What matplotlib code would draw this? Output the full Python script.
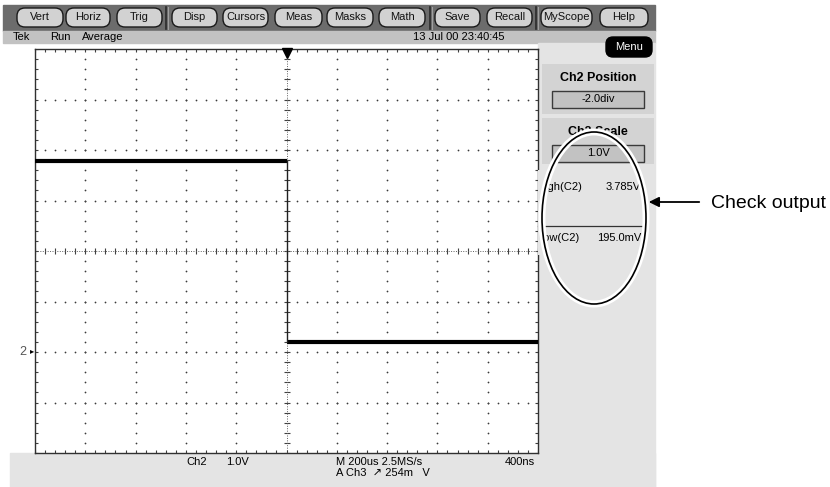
import numpy as np
import matplotlib
matplotlib.use("Agg")
import matplotlib.pyplot as plt
from matplotlib.patches import Rectangle, FancyBboxPatch, Ellipse, Polygon

plt.rcParams["font.family"] = ["Liberation Sans", "DejaVu Sans"]

# channel 2 waveform (time in us, volts)
time_us = [-1000, 0, 0, 1000]
ch2_volts = [3.785, 3.785, 0.195, 0.195]

# screen settings
volts_per_div = 1.0
us_per_div = 200
ch2_position_div = -2.0

# toolbar
buttons = ["Vert", "Horiz", "Trig", "Disp", "Cursors", "Meas", "Masks", "Math",
           "Save", "Recall", "MyScope", "Help"]
button_x = [17, 66, 117, 172, 223, 275, 327, 379, 435, 487, 541, 600]
button_w = [46, 44, 45, 45, 45, 47, 46, 46, 45, 45, 51, 48]
separators_x = [166, 430, 536]

meas_names = ["High(C2)", "Low(C2)"]
meas_values = ["3.785V", "195.0mV"]

FS = 8

fig = plt.figure(figsize=(8.3, 4.87), dpi=100)

# background layer in pixel coords
bg = fig.add_axes([0, 0, 1, 1], zorder=0)
bg.set_xlim(0, 830)
bg.set_ylim(487, 0)
bg.axis("off")

panel_gray = "#e4e4e4"
bg.add_patch(Rectangle((3, 5), 652, 26, color="#6c6c6c"))
bg.add_patch(Rectangle((3, 31), 652, 12, color="#c2c2c2"))
bg.add_patch(Rectangle((538, 43), 117, 444, color=panel_gray))
bg.add_patch(Rectangle((10, 453), 645, 34, color=panel_gray))

for name, x0, w in zip(buttons, button_x, button_w):
    bg.add_patch(FancyBboxPatch((x0, 8), w, 19, boxstyle="round,pad=0,rounding_size=8",
                                fc="#d2d2d2", ec="#1a1a1a", lw=1.0))
    bg.text(x0 + w / 2, 17.5, name, ha="center", va="center", fontsize=FS, color="#111")
for sx in separators_x:
    bg.plot([sx, sx], [7, 29], color="#2a2a2a", lw=1.2)
    bg.plot([sx + 1.5, sx + 1.5], [7, 29], color="#a0a0a0", lw=0.8)

bg.text(13, 37.5, "Tek", fontsize=FS, va="center")
bg.text(50, 37.5, "Run", fontsize=FS, va="center")
bg.text(82, 37.5, "Average", fontsize=FS, va="center")
bg.text(413, 37.5, "13 Jul 00 23:40:45", fontsize=FS, va="center")

# menu button
bg.add_patch(FancyBboxPatch((606, 37), 46, 20, boxstyle="round,pad=0,rounding_size=7",
                            fc="black", ec="black"))
bg.text(629, 47, "Menu", color="white", ha="center", va="center", fontsize=FS)

# Ch2 position / scale boxes
for y0, h, title, val in [(64, 50, "Ch2 Position", "%.1fdiv" % ch2_position_div),
                          (118, 46, "Ch2 Scale", "%.1fV" % volts_per_div)]:
    bg.add_patch(Rectangle((542, y0), 112, h, fc="#d3d3d3", ec="none"))
    bg.text(598, y0 + 14, title, ha="center", va="center", fontsize=9, fontweight="bold")
    bg.add_patch(Rectangle((552, y0 + 27), 92, 17, fc="#c2c2c2", ec="#3a3a3a", lw=1))
    bg.text(598, y0 + 35.5, val, ha="center", va="center", fontsize=FS)

# bottom status text
bg.text(186, 462, "Ch2", fontsize=FS, va="center")
bg.text(226, 462, "%.1fV" % volts_per_div, fontsize=FS, va="center")
bg.text(336, 462, "M %dus 2.5MS/s" % us_per_div, fontsize=FS, va="center")
bg.text(336, 472.5, "A Ch3  \u2197 254m   V", fontsize=FS, va="center")
bg.text(505, 462, "400ns", fontsize=FS, va="center")

# graticule axes
ax = fig.add_axes([35 / 830, 1 - 453 / 487, 503 / 830, 404 / 487], zorder=1)
ax.set_xlim(-5 * us_per_div, 5 * us_per_div)
ax.set_ylim(-2, 6)
ax.set_xticks([])
ax.set_yticks([])
for sp in ax.spines.values():
    sp.set_color("#303030")
    sp.set_linewidth(1.0)

x0, x1 = ax.get_xlim()
y0, y1 = ax.get_ylim()
xc, yc = (x0 + x1) / 2, (y0 + y1) / 2
major_x = np.linspace(x0, x1, 11)
major_y = np.linspace(y0, y1, 9)
minor_x = np.linspace(x0, x1, 51)
minor_y = np.linspace(y0, y1, 41)
dot = dict(s=1.6, color="#3a3a3a", linewidths=0)

for mx in major_x[1:-1]:
    if mx != xc:
        ax.scatter(np.full_like(minor_y, mx), minor_y, **dot)
for my in major_y[1:-1]:
    if my != yc:
        ax.scatter(minor_x, np.full_like(minor_x, my), **dot)

# center cross with ticks
ax.plot([x0, x1], [yc, yc], ls=(0, (1, 1.5)), lw=0.7, color="#606060")
ax.plot([xc, xc], [y0, y1], ls=(0, (1, 1.5)), lw=0.7, color="#606060")
ax.scatter(minor_x, np.full_like(minor_x, yc), marker="|", s=14, color="#404040", linewidths=0.8)
ax.scatter(np.full_like(minor_y, xc), minor_y, marker="_", s=14, color="#404040", linewidths=0.8)

# edge ticks
for ey in (y0, y1):
    ax.scatter(minor_x, np.full_like(minor_x, ey), marker="|", s=22, color="#404040", linewidths=0.8)
for ex in (x0, x1):
    ax.scatter(np.full_like(minor_y, ex), minor_y, marker="_", s=22, color="#404040", linewidths=0.8)

# waveform
ax.plot(time_us[:2], ch2_volts[:2], color="black", lw=3.0, solid_capstyle="butt", zorder=5)
ax.plot(time_us[2:], ch2_volts[2:], color="black", lw=3.0, solid_capstyle="butt", zorder=5)
ax.plot(time_us[1:3], ch2_volts[1:3], color="#202020", lw=1.0, zorder=5)

# trigger position marker and ground marker
ax.plot(xc, y1 - 0.07, marker="v", ms=7, color="black", clip_on=False, zorder=6)
ax.annotate("2", xy=(x0, 0), xytext=(-6, 0), textcoords="offset points", ha="right",
            va="center", fontsize=9, color="#555", annotation_clip=False)
ax.annotate("\u25b8", xy=(x0, 0), xytext=(-0.5, 0), textcoords="offset points", ha="right",
            va="center", fontsize=6, color="black", annotation_clip=False)

# overlay: circled measurements and callout
ov = fig.add_axes([0, 0, 1, 1], zorder=3)
ov.set_xlim(0, 830)
ov.set_ylim(487, 0)
ov.axis("off")
ov.patch.set_alpha(0)

ecx, ecy, ew, eh = 594, 218, 104, 172
for i, (nm, val) in enumerate(zip(meas_names, meas_values)):
    yy = 187 + i * 51
    ov.text(537, yy, nm, fontsize=FS, va="center")
    ov.text(641, yy, val, fontsize=FS, va="center", ha="right")
ov.plot([538, 642], [226, 226], color="#333", lw=0.9)

# hide the part of the readout left of the circle
ys = np.linspace(170, 255, 60)
xl = ecx - ew / 2 * np.sqrt(1 - ((ys - ecy) / (eh / 2)) ** 2)
mask = np.vstack([[538, 170], np.column_stack([xl, ys]), [538, 255]])
ov.add_patch(Polygon(mask, closed=True, fc=panel_gray, ec="none", zorder=4))

ov.add_patch(Ellipse((ecx, ecy), ew, eh, fc="none", ec="white", lw=5, zorder=5))
ov.add_patch(Ellipse((ecx, ecy), ew, eh, fc="none", ec="black", lw=1.2, zorder=6))

ov.annotate("", xy=(646, 202), xytext=(702, 202),
            arrowprops=dict(arrowstyle="-|>", color="black", lw=1.3, mutation_scale=15))
ov.text(711, 204, "Check output", fontsize=14, va="center", ha="left")

fig.savefig("out.png", dpi=100)
